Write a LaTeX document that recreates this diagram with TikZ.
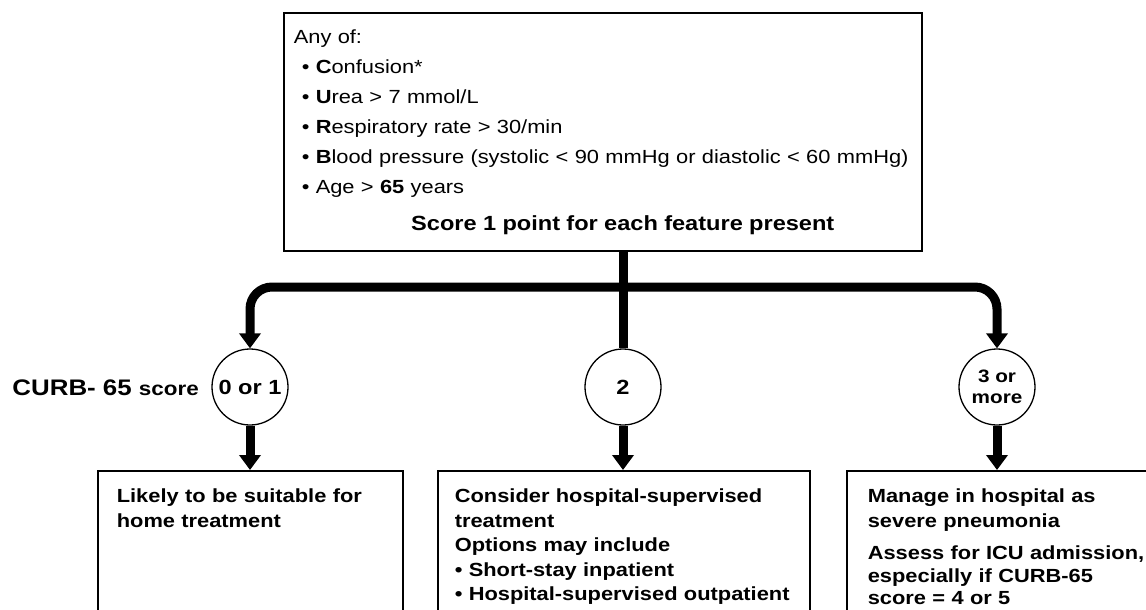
\documentclass[tikz,border=0pt]{standalone}
\usepackage{fontspec}
\setmainfont{Liberation Sans}[FakeStretch=1.15]
\usetikzlibrary{arrows.meta,positioning}
\newcommand{\critem}[2]{\mbox{\hspace*{8pt}\textbullet\ \textbf{#1}#2}}

\begin{document}
\begin{tikzpicture}[
  x=1pt,y=-1pt,
  critbox/.style={draw,line width=1.6pt,anchor=north west,align=left,
                  inner xsep=10pt,inner ysep=17pt,text height=14pt,text depth=190pt,
                  font=\fontsize{19}{30}\selectfont},
  outbox/.style={draw,line width=1.6pt,anchor=north west,align=left,
                 inner xsep=19pt,inner ysep=18pt,text height=14pt,text depth=200pt,
                 font=\fontsize{19}{24.5}\selectfont\bfseries},
  scorenode/.style={circle,draw,line width=1.3pt,minimum size=76pt,inner sep=0pt,
                    align=center,font=\fontsize{20.5}{22}\selectfont\bfseries},
  trunk/.style={line width=9pt},
  branch/.style={line width=9pt,rounded corners=22pt,-{Triangle[width=21pt,length=15pt]}},
  drop/.style={line width=9pt,-{Triangle[width=21pt,length=15pt]}}
]
\useasboundingbox (0,0) rectangle (1146,610);
\fill[white] (0,0) rectangle (1146,610);

% criteria box
\node[critbox,text width=618pt] (crit) at (283,12) {Any of:\\
  \critem{C}{onfusion*}\\
  \critem{U}{rea > 7 mmol/L}\\
  \critem{R}{espiratory rate > 30/min}\\
  \critem{B}{lood pressure (systolic < 90 mmHg or diastolic < 60 mmHg)}\\
  \critem{}{Age > \textbf{65} years}\\[7pt]
  \makebox[\linewidth]{\hspace*{40pt}\fontsize{20.5}{30}\selectfont\bfseries Score 1 point for each feature present}};

% scores
\node[scorenode] (c1) at (250,387) {0 or 1};
\node[scorenode] (c2) at (623,387) {2};
\node[scorenode,font=\fontsize{18}{21}\selectfont\bfseries] (c3) at (997,387) {3 or\\more};
\node[anchor=base east] (lbl) at ([xshift=-9pt,yshift=-8pt]c1.west)
  {\fontsize{22.5}{24}\selectfont\bfseries CURB- 65 \fontsize{19.5}{24}\selectfont score};

% outcomes
\node[outbox,text width=267pt] (home) at (97,470) {Likely to be suitable for\\home treatment};
\node[outbox,text width=338pt,inner xsep=17pt] (ward) at (437,470)
  {\mbox{Consider hospital-supervised}\\treatment\\Options may include\\
   \mbox{\textbullet\ Short-stay inpatient}\\\mbox{\textbullet\ Hospital-supervised outpatient}};
\node[outbox,text width=320pt,inner xsep=21pt] (icu) at (846,470)
  {Manage in hospital as\\severe pneumonia\\[8pt]\mbox{Assess for ICU admission,}\\[-2pt]
   especially if CURB-65\\[-2pt]score = 4 or 5};

% connectors
\coordinate (split) at (c2.north |- 0,287);
\draw[trunk] (c2.north |- crit.south) -- (c2.north);
\draw[branch] (split) -| (c1.north);
\draw[branch] (split) -| (c3.north);
\draw[drop] (c1.south) -- (c1.south |- home.north);
\draw[drop] (c2.south) -- (c2.south |- ward.north);
\draw[drop] (c3.south) -- (c3.south |- icu.north);
\end{tikzpicture}
\end{document}
